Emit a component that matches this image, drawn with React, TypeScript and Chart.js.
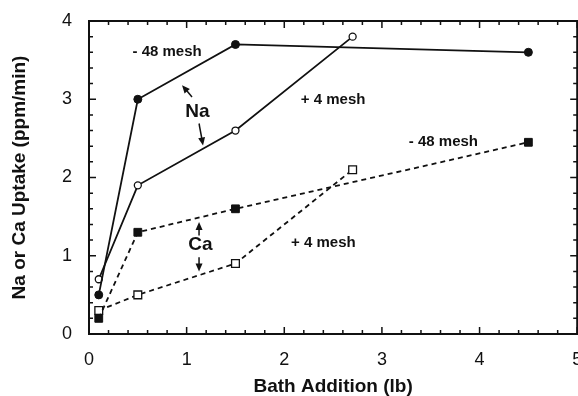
import React, { useEffect, useRef } from "react";
import { Chart, registerables } from "chart.js";

Chart.register(...registerables);

// Data
const naFineX = [0.1, 0.5, 1.5, 4.5];
const naFineY = [0.5, 3.0, 3.7, 3.6];
const naCoarseX = [0.1, 0.5, 1.5, 2.7];
const naCoarseY = [0.7, 1.9, 2.6, 3.8];
const caFineX = [0.1, 0.5, 1.5, 4.5];
const caFineY = [0.2, 1.3, 1.6, 2.45];
const caCoarseX = [0.1, 0.5, 1.5, 2.7];
const caCoarseY = [0.3, 0.5, 0.9, 2.1];

const xTitle = "Bath Addition (lb)";
const yTitle = "Na or Ca Uptake (ppm/min)";

// Annotation texts (data coordinates)
const labels = [
  { text: "- 48 mesh", x: 0.8, y: 3.6, size: 15 },
  { text: "Na", x: 1.11, y: 2.84, size: 19 },
  { text: "+ 4 mesh", x: 2.5, y: 2.99, size: 15 },
  { text: "- 48 mesh", x: 3.63, y: 2.45, size: 15 },
  { text: "Ca", x: 1.14, y: 1.14, size: 19 },
  { text: "+ 4 mesh", x: 2.4, y: 1.17, size: 15 },
];
// Arrows: [tailX, tailY, tipX, tipY] in data coordinates
const arrows = [
  [1.055, 3.03, 0.953, 3.18],
  [1.127, 2.69, 1.168, 2.41],
  [1.127, 1.26, 1.127, 1.43],
  [1.127, 0.98, 1.127, 0.8],
];

const FONT = "'Liberation Sans', Arial, sans-serif";

const pts = (xs: number[], ys: number[]) => xs.map((x, i) => ({ x, y: ys[i] }));

const framePlugin = {
  id: "frameTicks",
  afterDraw(chart: any) {
    const { ctx, chartArea: a, scales } = chart;
    const xs = scales.x;
    const ys = scales.y;
    ctx.save();
    ctx.strokeStyle = "#111";
    ctx.lineWidth = 2;
    ctx.strokeRect(a.left, a.top, a.right - a.left, a.bottom - a.top);
    ctx.lineWidth = 1.5;
    ctx.beginPath();
    for (let i = 0; i <= 25; i++) {
      const v = i * 0.2;
      const px = xs.getPixelForValue(v);
      const len = i % 5 === 0 ? 7 : 4;
      ctx.moveTo(px, a.bottom);
      ctx.lineTo(px, a.bottom - len);
      ctx.moveTo(px, a.top);
      ctx.lineTo(px, a.top + len);
    }
    for (let i = 0; i <= 20; i++) {
      const v = i * 0.2;
      const py = ys.getPixelForValue(v);
      const len = i % 5 === 0 ? 7 : 4;
      ctx.moveTo(a.left, py);
      ctx.lineTo(a.left + len, py);
      ctx.moveTo(a.right, py);
      ctx.lineTo(a.right - len, py);
    }
    ctx.stroke();
    ctx.restore();
  },
  afterDatasetsDraw(chart: any) {
    const { ctx, scales } = chart;
    const xs = scales.x;
    const ys = scales.y;
    ctx.save();
    ctx.fillStyle = "#111";
    ctx.strokeStyle = "#111";
    ctx.textAlign = "center";
    ctx.textBaseline = "middle";
    for (const l of labels) {
      ctx.font = `bold ${l.size}px ${FONT}`;
      ctx.fillText(l.text, xs.getPixelForValue(l.x), ys.getPixelForValue(l.y));
    }
    for (const [tx, ty, hx, hy] of arrows) {
      const x1 = xs.getPixelForValue(tx);
      const y1 = ys.getPixelForValue(ty);
      const x2 = xs.getPixelForValue(hx);
      const y2 = ys.getPixelForValue(hy);
      const ang = Math.atan2(y2 - y1, x2 - x1);
      const hl = 8;
      const hw = 3.5;
      ctx.lineWidth = 1.5;
      ctx.beginPath();
      ctx.moveTo(x1, y1);
      ctx.lineTo(x2 - Math.cos(ang) * hl * 0.6, y2 - Math.sin(ang) * hl * 0.6);
      ctx.stroke();
      const bx = x2 - Math.cos(ang) * hl;
      const by = y2 - Math.sin(ang) * hl;
      ctx.beginPath();
      ctx.moveTo(x2, y2);
      ctx.lineTo(bx + Math.sin(ang) * hw, by - Math.cos(ang) * hw);
      ctx.lineTo(bx - Math.sin(ang) * hw, by + Math.cos(ang) * hw);
      ctx.closePath();
      ctx.fill();
    }
    ctx.restore();
  },
};

export default function App() {
  const ref = useRef<HTMLCanvasElement>(null);
  useEffect(() => {
    if (!ref.current) return;
    const black = "#111";
    const chart = new Chart(ref.current, {
      type: "line",
      data: {
        datasets: [
          {
            data: pts(caFineX, caFineY),
            borderColor: black,
            borderWidth: 1.8,
            borderDash: [5, 4],
            pointStyle: "rect",
            pointRadius: 5.5,
            pointBackgroundColor: black,
            pointBorderColor: black,
            pointBorderWidth: 1,
          },
          {
            data: pts(caCoarseX, caCoarseY),
            borderColor: black,
            borderWidth: 1.8,
            borderDash: [5, 4],
            pointStyle: "rect",
            pointRadius: 5.5,
            pointBackgroundColor: "#fff",
            pointBorderColor: black,
            pointBorderWidth: 1.3,
          },
          {
            data: pts(naFineX, naFineY),
            borderColor: black,
            borderWidth: 1.8,
            pointStyle: "circle",
            pointRadius: 4,
            pointBackgroundColor: black,
            pointBorderColor: black,
            pointBorderWidth: 1,
          },
          {
            data: pts(naCoarseX, naCoarseY),
            borderColor: black,
            borderWidth: 1.8,
            pointStyle: "circle",
            pointRadius: 3.5,
            pointBackgroundColor: "#fff",
            pointBorderColor: black,
            pointBorderWidth: 1.3,
          },
        ],
      },
      options: {
        animation: false,
        responsive: false,
        devicePixelRatio: 1,
        layout: { padding: { top: 21, right: 1, left: 0, bottom: 0 } },
        plugins: { legend: { display: false }, tooltip: { enabled: false } },
        elements: { line: { tension: 0 } },
        scales: {
          x: {
            type: "linear",
            min: 0,
            max: 5,
            ticks: {
              stepSize: 1,
              padding: 15,
              color: black,
              font: { family: FONT, size: 18 },
            },
            grid: { display: false, drawTicks: false },
            border: { display: false },
            title: {
              display: true,
              text: xTitle,
              color: black,
              font: { family: FONT, size: 19, weight: "bold", lineHeight: 1 },
              padding: 0,
            },
            afterFit(scale: any) {
              scale.height = 62;
              scale.paddingLeft = 0;
              scale.paddingRight = 0;
            },
          },
          y: {
            type: "linear",
            min: 0,
            max: 4,
            ticks: {
              stepSize: 1,
              padding: 17,
              color: black,
              font: { family: FONT, size: 18 },
            },
            grid: { display: false, drawTicks: false },
            border: { display: false },
            title: {
              display: true,
              text: yTitle,
              color: black,
              font: { family: FONT, size: 19, weight: "bold", lineHeight: 1 },
              padding: { top: 10, bottom: 0 },
            },
            afterFit(scale: any) {
              scale.width = 89;
              scale.paddingTop = 0;
              scale.paddingBottom = 0;
            },
          },
        },
      },
      plugins: [framePlugin],
    } as any);
    return () => chart.destroy();
  }, []);
  return (
    <div style={{ position: "absolute", left: 0, top: 0, width: 578, height: 396, overflow: "hidden", background: "#fff" }}>
      <canvas ref={ref} width={584} height={396} style={{ display: "block" }} />
    </div>
  );
}
